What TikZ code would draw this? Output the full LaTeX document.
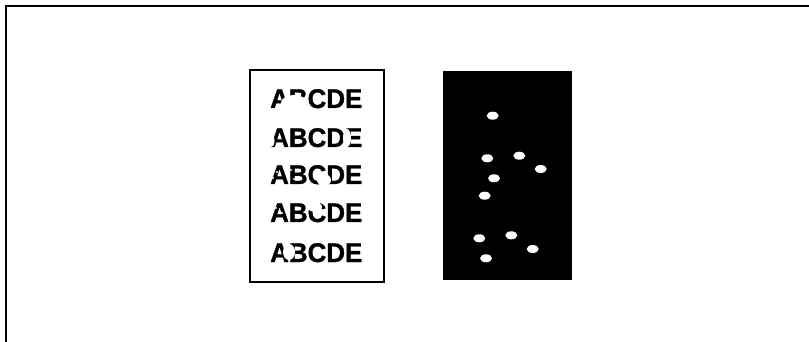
\documentclass[tikz,border=0pt]{standalone}
\usepackage{fontspec}
\setmainfont{Liberation Sans}
\newfontfamily\grassetto{Liberation Sans}[BoldFeatures={FakeBold=1.2}]

\begin{document}
\begin{tikzpicture}[x=1pt, y=-1pt]
% Stili per foglio, tamburo e macchie
\tikzset{cornice/.style={line width=2pt},
         foglio/.style={draw, line width=2pt, fill=white},
         tamburo/.style={fill=black, draw=none},
         riga/.style={anchor=base west, inner sep=0pt, xscale=0.96,
                      font=\grassetto\fontsize{27}{30}\selectfont\bfseries},
         macchia/.style={fill=white, draw=none}}

\useasboundingbox (0,0) rectangle (809,342);

% --- CORNICE (solo lati superiore e sinistro) ---
\draw[cornice] (5.5,342) -- (5.5,6.5) -- (809,6.5);

% --- FOGLIO STAMPATO ---
\node[foglio, minimum width=134pt, minimum height=212pt] (foglio) at (317,176) {};

% Righe di testo
\node[riga] (r1) at (270,108) {ABCDE};
\node[riga] (r2) at (270,147) {ABCDE};
\node[riga] (r3) at (270,184) {ABCDE};
\node[riga] (r4) at (270,222) {ABCDE};
\node[riga] (r5) at (270,262) {ABCDE};

% Zone non stampate sul foglio
\fill[macchia] (294,103) ellipse (13 and 8);
\fill[macchia] (271,141) ellipse (3.5 and 6);
\fill[macchia] (347,138) ellipse (4 and 9);
\fill[macchia] (324,180) ellipse (7 and 6);
\fill[macchia] (315,207) ellipse (7 and 5);
\fill[macchia] (289,252) ellipse (6 and 8);
% puntini piccoli
\foreach \p in {(273,178),(277,172),(281,181),(291,170),(294,179),(276,208),(282,213)}
    \fill[macchia] \p circle (1.1);

% --- TAMBURO CON PUNTI ---
\node[tamburo, minimum width=129pt, minimum height=209pt] (tamburo) at (507.5,175.5) {};
\foreach \p in {(492.7,115.7),(487.3,158.3),(519.3,155.7),(540.7,169),(494,178.3),
                (484.7,195.7),(479.3,238.3),(511.3,235.3),(532.7,249),(486,258.3)}
    \fill[white] \p ellipse (6 and 4);

\end{tikzpicture}
\end{document}
